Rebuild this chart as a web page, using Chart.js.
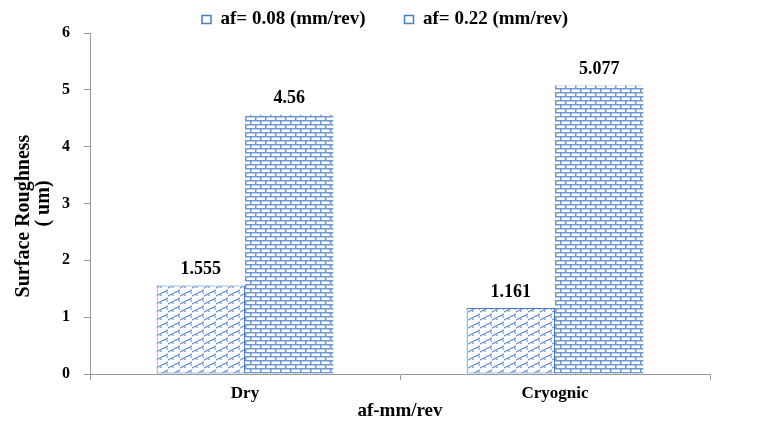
<!DOCTYPE html>
<html>
<head>
<meta charset="utf-8">
<script src="https://cdn.jsdelivr.net/npm/chart.js@4"></script>
<style>
  html, body { margin: 0; padding: 0; background: #fff; }
  #wrap { width: 770px; height: 433px; }
</style>
</head>
<body>
<div id="wrap"><canvas id="chart" width="770" height="433"></canvas></div>
<script>
const categories = ['Dry', 'Cryognic'];
const seriesNames = ['af= 0.08 (mm/rev)', 'af= 0.22 (mm/rev)'];
const feed008 = [1.555, 1.161];
const feed022 = [4.56, 5.077];
const labels008 = ['1.555', '1.161'];
const labels022 = ['4.56', '5.077'];
const yTicks = [0, 1, 2, 3, 4, 5, 6];

const blue = '#4a7cc4';
const serif = '"Liberation Serif", "Times New Roman", serif';

// diagonal weave fill for the first series
function weavePattern() {
  const c = document.createElement('canvas');
  c.width = 12; c.height = 8;
  const g = c.getContext('2d');
  g.fillStyle = '#fff';
  g.fillRect(0, 0, 12, 8);
  g.strokeStyle = '#6f97d2';
  g.lineWidth = 1.2;
  g.beginPath();
  g.moveTo(-2, 9); g.lineTo(14, 1);
  g.moveTo(-2, 1); g.lineTo(2, -1);
  g.moveTo(4, 6); g.lineTo(6, 9);
  g.moveTo(10, 3); g.lineTo(12, 6);
  g.stroke();
  return g.createPattern(c, 'repeat');
}

// horizontal brick fill for the second series
function brickPattern() {
  const c = document.createElement('canvas');
  c.width = 10; c.height = 8;
  const g = c.getContext('2d');
  g.fillStyle = '#fff';
  g.fillRect(0, 0, 10, 8);
  g.fillStyle = '#6f97d2';
  g.fillRect(0, 0, 10, 1.5);
  g.fillRect(0, 4, 10, 1.5);
  g.fillRect(0, 0, 1.5, 4);
  g.fillRect(5, 4, 1.5, 4);
  return g.createPattern(c, 'repeat');
}

const valueLabels = {
  id: 'valueLabels',
  afterDatasetsDraw(chart) {
    const ctx = chart.ctx;
    const texts = [labels008, labels022];
    ctx.save();
    ctx.font = 'bold 18px ' + serif;
    ctx.fillStyle = '#000';
    ctx.textAlign = 'center';
    ctx.textBaseline = 'bottom';
    chart.data.datasets.forEach((ds, i) => {
      chart.getDatasetMeta(i).data.forEach((bar, j) => {
        ctx.fillText(texts[i][j], bar.x, bar.y - 7);
      });
    });
    ctx.restore();
  }
};

// nudge the legend down a little without moving the plot
const legendNudge = {
  id: 'legendNudge',
  afterLayout(chart) {
    if (chart.legend) {
      chart.legend.top += 6;
      chart.legend.bottom += 6;
    }
  }
};

new Chart(document.getElementById('chart'), {
  type: 'bar',
  data: {
    labels: categories,
    datasets: [
      {
        label: seriesNames[0],
        data: feed008,
        backgroundColor: weavePattern(),
        borderColor: blue,
        borderWidth: 1,
        borderSkipped: false
      },
      {
        label: seriesNames[1],
        data: feed022,
        backgroundColor: brickPattern(),
        borderColor: blue,
        borderWidth: 0,
        borderSkipped: false
      }
    ]
  },
  plugins: [valueLabels, legendNudge],
  options: {
    responsive: false,
    animation: false,
    layout: { padding: { top: 3, right: 0, bottom: 0, left: 0 } },
    plugins: {
      tooltip: { enabled: false },
      legend: {
        position: 'top',
        labels: {
          boxWidth: 9,
          boxHeight: 8,
          padding: 1,
          color: '#000',
          font: { family: serif, size: 19, weight: 'bold' },
          generateLabels(chart) {
            const items = Chart.defaults.plugins.legend.labels.generateLabels(chart);
            items[0].text = items[0].text + '        ';
            items.forEach(it => { it.fillStyle = '#fff'; it.strokeStyle = blue; it.lineWidth = 1.5; });
            return items;
          }
        }
      }
    },
    datasets: {
      bar: { categoryPercentage: 0.57, barPercentage: 1.0 }
    },
    scales: {
      x: {
        grid: { display: true, offset: true, drawOnChartArea: false, tickLength: 6, color: '#999' },
        border: { color: '#999' },
        ticks: { color: '#000', padding: 3, font: { family: serif, size: 17, weight: 'bold' } },
        title: {
          display: true,
          text: 'af-mm/rev',
          color: '#000',
          padding: { top: 2, bottom: 11 },
          font: { family: serif, size: 19, weight: 'bold' }
        },
        afterFit(scale) { scale.height = 59; }
      },
      y: {
        min: 0,
        max: 6,
        afterBuildTicks(scale) { scale.ticks = yTicks.map(v => ({ value: v })); },
        grid: { display: true, drawOnChartArea: false, tickLength: 6, color: '#999' },
        border: { color: '#999' },
        ticks: { color: '#000', padding: 14, font: { family: serif, size: 16, weight: 'bold' } },
        title: {
          display: true,
          text: ['Surface Roughness     ', '( um)'],
          color: '#000',
          padding: { top: 14, bottom: 2 },
          font: { family: serif, size: 20, weight: 'bold', lineHeight: 1.0 }
        },
        afterFit(scale) { scale.width = 90; }
      },
      // empty right-hand spacer so the plot ends where the reference does
      yRight: {
        position: 'right',
        display: true,
        grid: { display: false },
        border: { display: false },
        ticks: { display: false },
        afterFit(scale) { scale.width = 60; }
      }
    }
  }
});
</script>
</body>
</html>
